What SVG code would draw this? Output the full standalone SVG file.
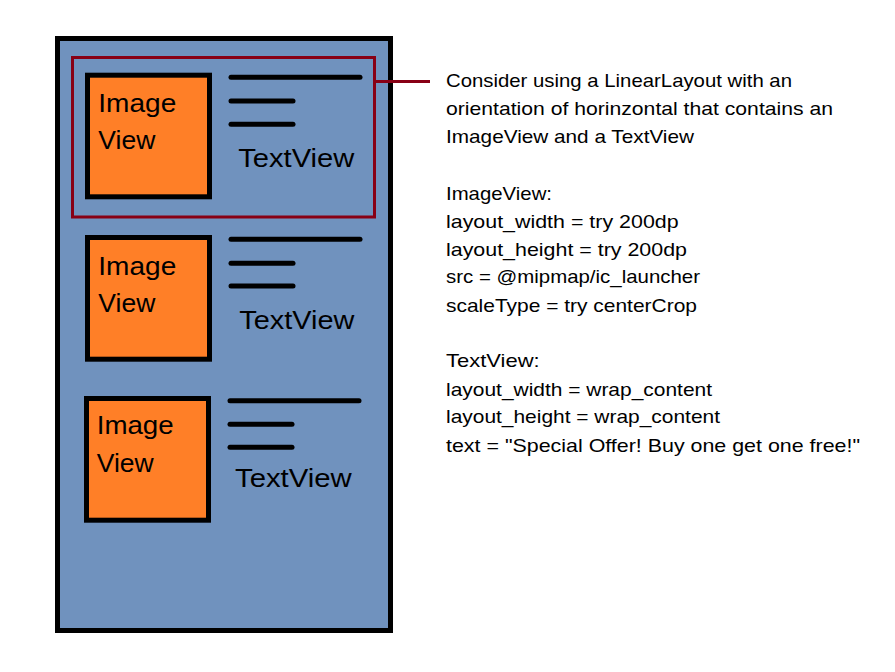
<svg xmlns="http://www.w3.org/2000/svg" width="895" height="672" viewBox="0 0 895 672">
<style>
  .phone { fill: #7092be; stroke: #000; stroke-width: 5; }
  .img { fill: #ff7f27; stroke: #000; stroke-width: 5; }
  .ln { stroke: #000; stroke-width: 5; stroke-linecap: round; fill: none; }
  .sel { fill: none; stroke: #880015; stroke-width: 3; }
  .big { font-family: "Comic Sans MS", "Liberation Sans", sans-serif; font-size: 26px; fill: #000; }
  .note { font-family: "Comic Sans MS", "Liberation Sans", sans-serif; font-size: 19px; fill: #000; }
</style>
<rect width="895" height="672" fill="#fff"/>
<g id="phone">
  <rect class="phone" x="57.5" y="38.5" width="333" height="592"/>
</g>
<g id="row1">
  <rect class="img" x="87.5" y="75.2" width="122" height="121.6"/>
  <text class="big" x="98.3" y="111.7" textLength="78" lengthAdjust="spacingAndGlyphs">Image</text>
  <text class="big" x="98.3" y="149.3" textLength="57" lengthAdjust="spacingAndGlyphs">View</text>
  <line class="ln" x1="231" y1="77.3" x2="360" y2="77.3"/>
  <line class="ln" x1="231" y1="101" x2="293" y2="101"/>
  <line class="ln" x1="231" y1="124.3" x2="293" y2="124.3"/>
  <text class="big" x="238.3" y="166.7" textLength="116" lengthAdjust="spacingAndGlyphs">TextView</text>
</g>
<g id="row2">
  <rect class="img" x="87.5" y="237.5" width="122" height="121.7"/>
  <text class="big" x="98.3" y="275" textLength="78" lengthAdjust="spacingAndGlyphs">Image</text>
  <text class="big" x="98.3" y="311.7" textLength="57" lengthAdjust="spacingAndGlyphs">View</text>
  <line class="ln" x1="231" y1="239.3" x2="360" y2="239.3"/>
  <line class="ln" x1="231" y1="263.3" x2="293" y2="263.3"/>
  <line class="ln" x1="231" y1="286" x2="293" y2="286"/>
  <text class="big" x="239.3" y="329.3" textLength="115" lengthAdjust="spacingAndGlyphs">TextView</text>
</g>
<g id="row3">
  <rect class="img" x="86.5" y="398.5" width="122" height="121.7"/>
  <text class="big" x="96.7" y="434" textLength="77" lengthAdjust="spacingAndGlyphs">Image</text>
  <text class="big" x="96.7" y="471.7" textLength="57" lengthAdjust="spacingAndGlyphs">View</text>
  <line class="ln" x1="230" y1="400.7" x2="359" y2="400.7"/>
  <line class="ln" x1="230" y1="424.3" x2="292" y2="424.3"/>
  <line class="ln" x1="230" y1="447.3" x2="292" y2="447.3"/>
  <text class="big" x="235" y="487.3" textLength="116.7" lengthAdjust="spacingAndGlyphs">TextView</text>
</g>
<g id="selection">
  <rect class="sel" x="72.5" y="57.5" width="302" height="159.5"/>
</g>
<g id="connectors">
  <line class="sel" x1="376" y1="81.5" x2="430" y2="81.5"/>
</g>
<g id="note">
  <text class="note" x="446" y="86.7" textLength="346" lengthAdjust="spacingAndGlyphs">Consider using a LinearLayout with an</text>
  <text class="note" x="446" y="115" textLength="387" lengthAdjust="spacingAndGlyphs">orientation of horinzontal that contains an</text>
  <text class="note" x="446" y="143.3" textLength="248" lengthAdjust="spacingAndGlyphs">ImageView and a TextView</text>
  <text class="note" x="446" y="200" textLength="106" lengthAdjust="spacingAndGlyphs">ImageView:</text>
  <text class="note" x="446" y="228.3" textLength="232.6" lengthAdjust="spacingAndGlyphs">layout_width = try 200dp</text>
  <text class="note" x="446" y="256" textLength="241" lengthAdjust="spacingAndGlyphs">layout_height = try 200dp</text>
  <text class="note" x="446" y="283.3" textLength="254" lengthAdjust="spacingAndGlyphs">src = @mipmap/ic_launcher</text>
  <text class="note" x="446" y="311.7" textLength="251" lengthAdjust="spacingAndGlyphs">scaleType = try centerCrop</text>
  <text class="note" x="446" y="367.3" textLength="93.6" lengthAdjust="spacingAndGlyphs">TextView:</text>
  <text class="note" x="446" y="395.7" textLength="266" lengthAdjust="spacingAndGlyphs">layout_width = wrap_content</text>
  <text class="note" x="446" y="423.3" textLength="274" lengthAdjust="spacingAndGlyphs">layout_height = wrap_content</text>
  <text class="note" x="446" y="451.7" textLength="414" lengthAdjust="spacingAndGlyphs">text = "Special Offer! Buy one get one free!"</text>
</g>
</svg>
